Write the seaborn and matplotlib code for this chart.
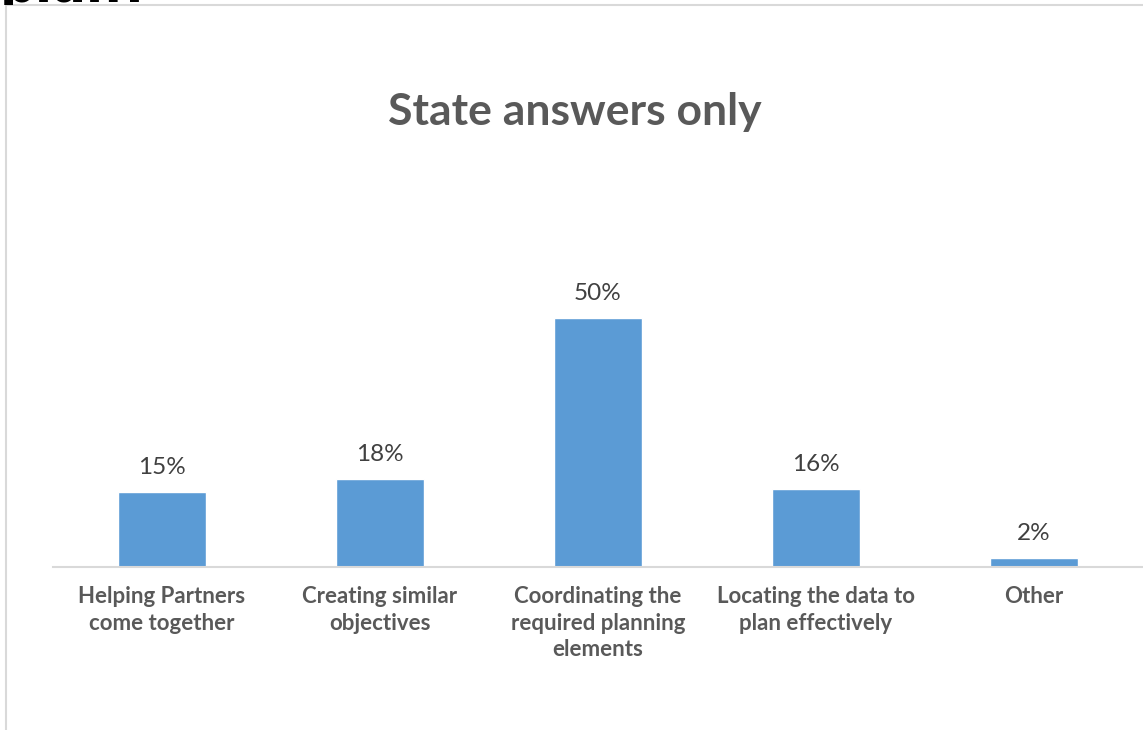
import pandas as pd
import seaborn as sns
import matplotlib.pyplot as plt
from matplotlib.patches import Rectangle

# chart data
categories = ["Helping Partners\ncome together", "Creating similar\nobjectives",
              "Coordinating the\nrequired planning\nelements", "Locating the data to\nplan effectively",
              "Other"]
shares = [0.151, 0.176, 0.50, 0.156, 0.018]
value_labels = ["15%", "18%", "50%", "16%", "2%"]

data = pd.DataFrame({"answer": categories, "share": shares})

sns.set_style("white")
plt.rcParams["font.family"] = ["Lato", "DejaVu Sans"]

W, H = 1143, 730
fig = plt.figure(figsize=(W / 100, H / 100), dpi=100)
ax = fig.add_axes([53 / W, 163 / H, (W - 53) / W, 299 / H])

sns.barplot(x="answer", y="share", data=data, color="#5B9BD5", width=0.4,
            saturation=1, ax=ax)
ax.set_xlim(-0.5, 4.5)
ax.set_ylim(0, 0.6)

# data labels above bars
ax.bar_label(ax.containers[0], labels=value_labels, padding=10,
             fontsize=17.5, color="#404040")

ax.set_xlabel("")
ax.set_ylabel("")
ax.set_yticks([])
ax.set_xticks(range(len(categories)))
ax.set_xticklabels(categories, fontsize=16, fontweight="bold", color="#595959",
                   linespacing=1.3, va="top")
ax.tick_params(axis="x", length=0, pad=14)
for side in ["left", "right", "top"]:
    ax.spines[side].set_visible(False)
ax.spines["bottom"].set_color("#D9D9D9")
ax.spines["bottom"].set_linewidth(1.5)

# title
fig.text(575 / W, 1 - 112 / H, "State answers only", ha="center", va="center",
         fontsize=32, fontweight="bold", color="#595959")

# chart frame (cut off at the right and bottom)
fig.patches.append(Rectangle((6 / W, -0.1), 1.2, 1 - 5 / H + 0.1, transform=fig.transFigure,
                             fill=False, edgecolor="#D9D9D9", linewidth=1.5))

# text of the slide above, only its lower edge shows above the frame
t = fig.text(0.0, 1 - 2 / H, "plan?", ha="left", va="baseline", fontsize=36,
             fontweight="bold", color="black", family="DejaVu Sans")
t.set_clip_path(Rectangle((0, 1 - 5 / H), 1, 5 / H, transform=fig.transFigure))

fig.savefig("out.png", dpi=100)
